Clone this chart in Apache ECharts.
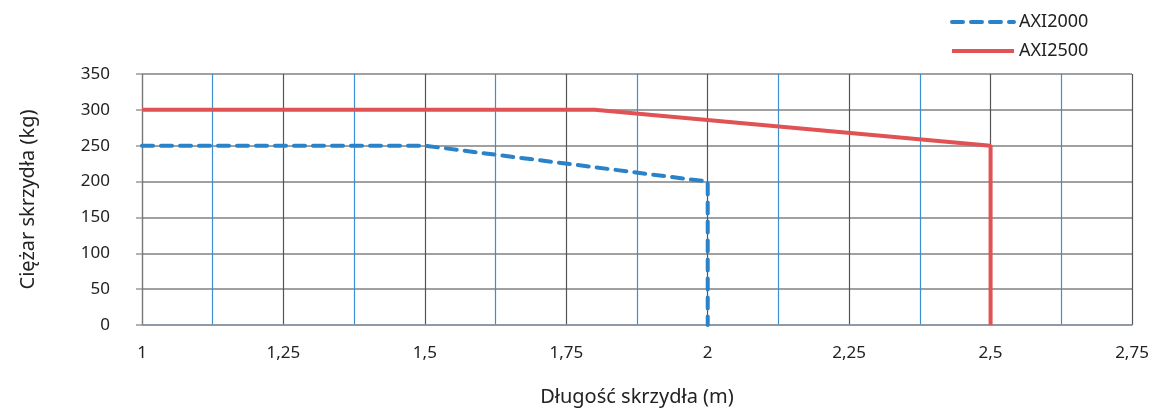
<!DOCTYPE html>
<html>
<head>
<meta charset="utf-8">
<script src="https://cdn.jsdelivr.net/npm/echarts@6/dist/echarts.min.js"></script>
<style>html,body{margin:0;padding:0;background:#fff;}#c{width:1155px;height:412px;}</style>
</head>
<body>
<div id="c"></div>
<script>
const seriesNames = ['AXI2000', 'AXI2500'];
const axi2000 = [[1, 250], [1.5, 250], [2, 200], [2, 0]];
const axi2500 = [[1, 300], [1.8, 300], [2.5, 250], [2.5, 0]];
const xTickValues = [1, 1.25, 1.5, 1.75, 2, 2.25, 2.5, 2.75];
const xTickLabels = ['1', '1,25', '1,5', '1,75', '2', '2,25', '2,5', '2,75'];
const yTickLabels = ['0', '50', '100', '150', '200', '250', '300', '350'];

const font = '"Noto Sans", "Open Sans", sans-serif';
const chart = echarts.init(document.getElementById('c'));
chart.setOption({
  animation: false,
  textStyle: { fontFamily: font },
  legend: {
    orient: 'vertical',
    left: 945,
    top: 8,
    itemWidth: 62,
    itemHeight: 4,
    itemGap: 11,
    itemStyle: { opacity: 0, borderWidth: 0 },
    lineStyle: { width: 4 },
    textStyle: { fontSize: 18, color: '#222', fontFamily: font },
    data: seriesNames
  },
  grid: { left: 142, right: 23, top: 74, bottom: 86 },
  xAxis: {
    type: 'value',
    min: 1,
    max: 2.75,
    interval: 0.125,
    name: 'Długość skrzydła (m)',
    nameLocation: 'middle',
    nameGap: 62,
    nameTextStyle: { fontSize: 20, color: '#222' },
    axisLine: { show: true, lineStyle: { color: '#8a96a6', width: 1.5 } },
    axisTick: { show: false },
    axisLabel: {
      margin: 20,
      fontSize: 17,
      color: '#222',
      formatter: function (v) {
        for (let i = 0; i < xTickValues.length; i++) {
          if (Math.abs(xTickValues[i] - v) < 1e-6) return xTickLabels[i];
        }
        return '';
      }
    },
    splitLine: { show: true, lineStyle: { color: ['#555555', '#3d8fd1'], width: 1.2 } }
  },
  yAxis: {
    type: 'value',
    min: 0,
    max: 350,
    interval: 50,
    name: 'Ciężar skrzydła (kg)',
    nameLocation: 'middle',
    nameGap: 104,
    nameTextStyle: { fontSize: 20, color: '#222' },
    axisLine: { show: true, lineStyle: { color: '#777', width: 1.2 } },
    axisTick: { show: true, length: 6, lineStyle: { color: '#999', width: 1.5 } },
    axisLabel: {
      margin: 32,
      fontSize: 17,
      color: '#222',
      formatter: function (v) { return yTickLabels[Math.round(v / 50)]; }
    },
    splitLine: { show: true, lineStyle: { color: '#a0a0a0', width: 1.8 } }
  },
  series: [
    {
      name: seriesNames[0],
      type: 'line',
      data: axi2000,
      symbol: 'none',
      color: '#2a82c8',
      lineStyle: { color: '#2a82c8', width: 4, type: [11, 8], cap: 'round' },
      z: 3
    },
    {
      name: seriesNames[1],
      type: 'line',
      data: axi2500,
      symbol: 'none',
      color: '#e05254',
      lineStyle: { color: '#e05254', width: 4 },
      z: 4
    }
  ]
});
</script>
</body>
</html>
